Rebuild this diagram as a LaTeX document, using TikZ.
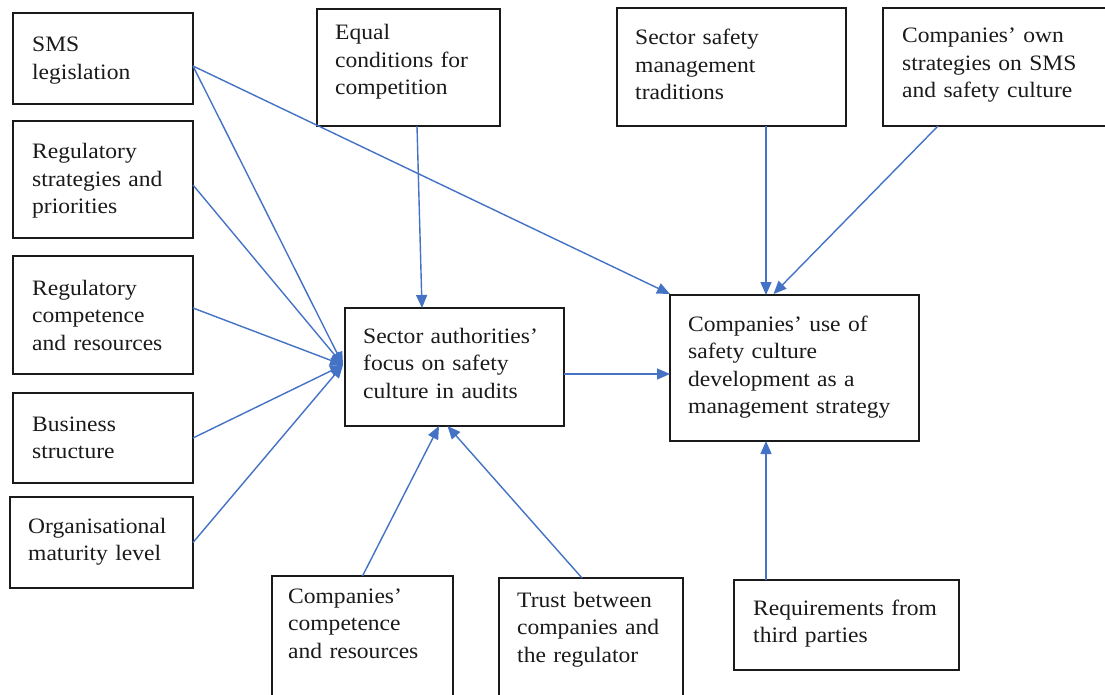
\documentclass[tikz,border=0pt]{standalone}
\usepackage{fontspec}
\setmainfont{Liberation Serif}[FakeStretch=1.07]
\usetikzlibrary{arrows.meta}
\definecolor{arrblue}{HTML}{4472C4}
\definecolor{ink}{HTML}{1A1A1A}
\newcommand{\boxfont}{\fontsize{22}{27.5}\selectfont}
\begin{document}
\begin{tikzpicture}[x=1pt,y=-1pt,
  box/.style={draw=ink, line width=1.4pt, anchor=north west, inner sep=0pt, outer sep=0pt},
  txt/.style={anchor=base west, inner sep=0pt, align=left, text width=240pt, font=\boxfont, text=ink},
  arr/.style={draw=arrblue, line width=1.4pt, -{Triangle[length=13pt,width=11pt]}}]
\useasboundingbox (0,0) rectangle (1105,695);
\clip (0,0) rectangle (1105,695);
\fill[white] (0,0) rectangle (1105,695);

% boxes
\node[box, minimum width=180pt, minimum height=91pt] (sms) at (13,13) {};
\node[box, minimum width=180pt, minimum height=117pt] (regstrat) at (13,121) {};
\node[box, minimum width=180pt, minimum height=118pt] (regcomp) at (13,256) {};
\node[box, minimum width=180pt, minimum height=90pt] (business) at (13,393) {};
\node[box, minimum width=183pt, minimum height=91pt] (orgmat) at (10,497) {};
\node[box, minimum width=183pt, minimum height=117pt] (equal) at (317,9) {};
\node[box, minimum width=229pt, minimum height=118pt] (sector) at (617,8) {};
\node[box, minimum width=240pt, minimum height=118pt] (compown) at (883,8) {};
\node[box, minimum width=219pt, minimum height=118pt] (auth) at (345,308) {};
\node[box, minimum width=249pt, minimum height=146pt] (use) at (670,295) {};
\node[box, minimum width=181pt, minimum height=130pt] (compcomp) at (272,576) {};
\node[box, minimum width=184pt, minimum height=130pt] (trust) at (499,578) {};
\node[box, minimum width=225pt, minimum height=90pt] (req) at (734,580) {};

% texts
\node[txt] (smsT) at (32,52) {SMS\\legislation};
\node[txt] (regstratT) at (32,159) {Regulatory\\strategies and\\priorities};
\node[txt] (regcompT) at (32,295) {Regulatory\\competence\\and resources};
\node[txt] (businessT) at (32,431) {Business\\structure};
\node[txt] (orgmatT) at (28,533) {Organisational\\maturity level};
\node[txt] (equalT) at (335,40) {Equal\\conditions for\\competition};
\node[txt] (sectorT) at (635,45) {Sector safety\\management\\traditions};
\node[txt] (compownT) at (902,43) {Companies’ own\\strategies on SMS\\and safety culture};
\node[txt] (authT) at (363,343) {Sector authorities’\\focus on safety\\culture in audits};
\node[txt] (useT) at (688,331) {Companies’ use of\\safety culture\\development as a\\management strategy};
\node[txt] (compcompT) at (288,603) {Companies’\\competence\\and resources};
\node[txt] (trustT) at (517,607) {Trust between\\companies and\\the regulator};
\node[txt] (reqT) at (753,615) {Requirements from\\third parties};

% connectors
\coordinate (hub) at ([xshift=-2pt,yshift=2pt]auth.west);
\draw[arr] ([yshift=-7.5pt]sms.east) -- (hub);
\draw[arr] ([yshift=-5.5pt]regstrat.east) -- (hub);
\draw[arr] ([yshift=7pt]regcomp.east) -- (hub);
\draw[arr] (business.east) -- (hub);
\draw[arr] (orgmat.east) -- (hub);
\draw[arr] ([yshift=-7.5pt]sms.east) -- ([yshift=1pt]use.north west);
\draw[arr] ([xshift=8.5pt]equal.south) -- ([xshift=-32.5pt]auth.north);
\draw[arr] ([yshift=-7pt]auth.east) -- ([yshift=-6pt]use.west);
\draw[arr] ([xshift=34.5pt]sector.south) -- ([xshift=-28.5pt]use.north);
\draw[arr] ([xshift=-65pt]compown.south) -- ([xshift=-21pt,yshift=1pt]use.north);
\draw[arr] (compcomp.north) -- ([xshift=-15.5pt]auth.south);
\draw[arr] ([xshift=-9pt]trust.north) -- ([xshift=-7pt]auth.south);
\draw[arr] ([xshift=-80.5pt]req.north) -- ([xshift=-28.5pt]use.south);
\end{tikzpicture}
\end{document}
